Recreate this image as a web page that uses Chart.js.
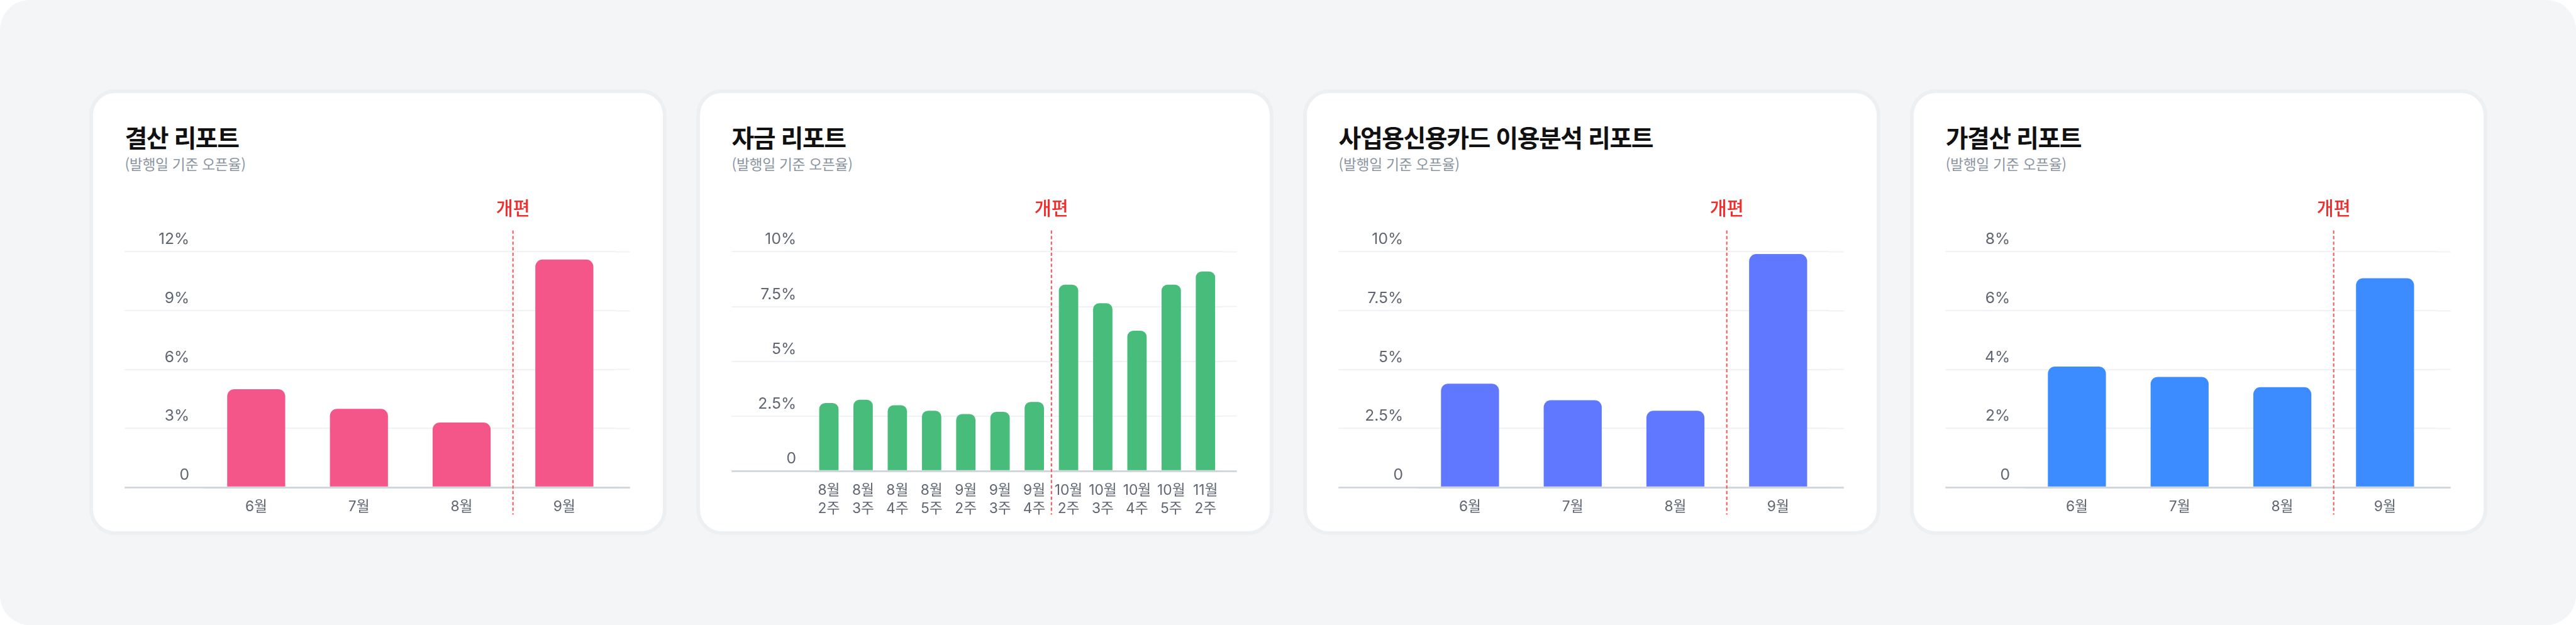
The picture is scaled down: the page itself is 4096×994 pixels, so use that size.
<!DOCTYPE html>
<html lang="ko">
<head>
<meta charset="utf-8">
<title>리포트 오픈율</title>
<script src="https://cdn.jsdelivr.net/npm/chart.js@4.4.1/dist/chart.umd.min.js"></script>
<style>
  html, body { margin: 0; padding: 0; background: #ffffff; }
  body { width: 4096px; height: 994px; overflow: hidden; position: relative; }
  #board { position: absolute; left: 0; top: 0; width: 4096px; height: 994px; background: #f4f5f7; }
  .card { position: absolute; box-sizing: border-box; background: #ffffff; border-style: solid; border-color: #edf0f3; }
  .card h2 { position: absolute; margin: 0; font-family: 'Noto Sans CJK KR', sans-serif; font-weight: 700; color: #111111; white-space: nowrap; line-height: 1; }
  .card p { position: absolute; margin: 0; font-family: 'Noto Sans CJK KR', sans-serif; font-weight: 400; color: #8b95a1; white-space: nowrap; line-height: 1; }
  .card canvas { position: absolute; left: 0; }
</style>
</head>
<body>
<div id="board"></div>
<script>
// everything is laid out in reference pixels, then scaled to the window
const S = 0.948;
const px = v => v * S;

// 결산 리포트
const settleLabels = ['6월', '7월', '8월', '9월'];
const settleRates = [5.0, 4.0, 3.3, 11.6];
const settleMax = 12, settleStep = 3, settleReformAt = 3;

// 자금 리포트 (weekly)
const fundLabels = [
    ['8월', '2주'], ['8월', '3주'], ['8월', '4주'], ['8월', '5주'],
    ['9월', '2주'], ['9월', '3주'], ['9월', '4주'],
    ['10월', '2주'], ['10월', '3주'], ['10월', '4주'], ['10월', '5주'],
    ['11월', '2주']
];
const fundRates = [3.1, 3.25, 3.0, 2.75, 2.6, 2.7, 3.15, 8.5, 7.65, 6.4, 8.5, 9.1];
const fundMax = 10, fundStep = 2.5, fundReformAt = 7;

// 사업용신용카드 이용분석 리포트
const bizCardLabels = ['6월', '7월', '8월', '9월'];
const bizCardRates = [4.4, 3.7, 3.25, 9.9];
const bizCardMax = 10, bizCardStep = 2.5, bizCardReformAt = 3;

// 가결산 리포트
const preSettleLabels = ['6월', '7월', '8월', '9월'];
const preSettleRates = [4.1, 3.75, 3.4, 7.1];
const preSettleMax = 8, preSettleStep = 2, preSettleReformAt = 3;

const subtitle = '(발행일 기준 오픈율)';
const reformLabel = '개편';

const GRID = '#f0f2f5';
const BASE = '#d1d6db';
const TICK_TEXT = '#5f6672';
const FONT = "'Inter', 'Noto Sans CJK KR', sans-serif";

document.getElementById('board').style.borderRadius = px(50) + 'px';

// dashed "개편" marker between the last old and first new category
const reformLine = {
    id: 'reformLine',
    afterDraw(chart, args, opts) {
        const xs = chart.scales.x;
        const x = (xs.getPixelForValue(opts.at - 1) + xs.getPixelForValue(opts.at)) / 2;
        const { ctx, chartArea } = chart;
        ctx.save();
        ctx.strokeStyle = '#f25b5b';
        ctx.lineWidth = px(2.2);
        ctx.setLineDash([px(5.5), px(3.8)]);
        ctx.beginPath();
        ctx.moveTo(x, chartArea.top - px(35.7));
        ctx.lineTo(x, chart.height - px(27));
        ctx.stroke();
        ctx.setLineDash([]);
        ctx.fillStyle = '#ef2f2f';
        ctx.font = `500 ${px(31)}px 'Noto Sans CJK KR', sans-serif`;
        ctx.textAlign = 'center';
        ctx.textBaseline = 'middle';
        ctx.fillText(reformLabel, x, chartArea.top - px(73.4));
        ctx.restore();
    }
};

function makeCard(i, title) {
    const card = document.createElement('div');
    card.className = 'card';
    card.style.left = px(150 + i * 1018) + 'px';
    card.style.top = px(150) + 'px';
    card.style.width = px(968) + 'px';
    card.style.height = px(748) + 'px';
    card.style.borderWidth = px(7) + 'px';
    card.style.borderRadius = px(43) + 'px';

    const h = document.createElement('h2');
    h.textContent = title;
    h.style.left = px(53) + 'px';
    h.style.top = px(53) + 'px';
    h.style.fontSize = px(41) + 'px';
    h.style.letterSpacing = px(-1.5) + 'px';
    card.appendChild(h);

    const p = document.createElement('p');
    p.textContent = subtitle;
    p.style.left = px(53) + 'px';
    p.style.top = px(107) + 'px';
    p.style.fontSize = px(24) + 'px';
    p.style.letterSpacing = px(-0.3) + 'px';
    card.appendChild(p);

    const canvas = document.createElement('canvas');
    canvas.style.top = px(150) + 'px';
    canvas.width = Math.round(px(954));
    canvas.height = Math.round(px(584));
    card.appendChild(canvas);

    document.getElementById('board').appendChild(card);
    return canvas;
}

function renderReportChart(canvas, labels, rates, color, yMax, yStep, reformAt, axisHeight, radius) {
    const lineColor = c => (c.tick && c.tick.value === 0 ? BASE : GRID);
    const lineWidth = c => (c.tick && c.tick.value === 0 ? px(3) : px(2));

    return new Chart(canvas.getContext('2d'), {
        type: 'bar',
        data: {
            labels: labels,
            datasets: [{
                data: rates,
                backgroundColor: color,
                borderRadius: px(radius),
                borderSkipped: 'start',
                barPercentage: 0.565,
                categoryPercentage: 1
            }]
        },
        options: {
            responsive: false,
            animation: false,
            events: [],
            layout: {
                padding: { top: px(116.4), left: px(53), right: px(53), bottom: 0 }
            },
            plugins: {
                legend: { display: false },
                tooltip: { enabled: false },
                reformLine: { at: reformAt }
            },
            scales: {
                x: {
                    type: 'category',
                    z: 1,
                    offset: true,
                    grid: { display: false, drawTicks: false },
                    border: { display: true, color: BASE, width: px(3) },
                    ticks: {
                        autoSkip: false,
                        maxRotation: 0,
                        padding: px(17.3),
                        color: TICK_TEXT,
                        font: { family: FONT, size: px(24), lineHeight: 1.28 }
                    },
                    afterFit: s => { s.height = px(axisHeight); }
                },
                y: {
                    position: 'left',
                    min: 0,
                    max: yMax,
                    border: { display: false },
                    grid: {
                        color: lineColor,
                        lineWidth: lineWidth,
                        drawTicks: true,
                        tickLength: px(134.5),
                        tickColor: lineColor,
                        tickWidth: lineWidth
                    },
                    ticks: {
                        stepSize: yStep,
                        padding: px(-108.5),
                        labelOffset: px(-20.4),
                        color: TICK_TEXT,
                        font: { family: FONT, size: px(26) },
                        callback: v => (v === 0 ? '0' : v + '%')
                    },
                    afterFit: s => { s.width = px(134.5); }
                },
                y2: {
                    position: 'right',
                    min: 0,
                    max: yMax,
                    border: { display: false },
                    grid: {
                        drawOnChartArea: false,
                        drawTicks: true,
                        tickLength: px(24),
                        tickColor: lineColor,
                        tickWidth: lineWidth
                    },
                    ticks: { stepSize: yStep, display: false },
                    afterFit: s => { s.width = px(24); }
                }
            }
        },
        plugins: [reformLine]
    });
}

renderReportChart(makeCard(0, '결산 리포트'), settleLabels, settleRates, '#f5568a',
    settleMax, settleStep, settleReformAt, 72.7, 12);
renderReportChart(makeCard(1, '자금 리포트'), fundLabels, fundRates, '#48bd7b',
    fundMax, fundStep, fundReformAt, 100, 10);
renderReportChart(makeCard(2, '사업용신용카드 이용분석 리포트'), bizCardLabels, bizCardRates, '#5f78ff',
    bizCardMax, bizCardStep, bizCardReformAt, 72.7, 12);
renderReportChart(makeCard(3, '가결산 리포트'), preSettleLabels, preSettleRates, '#3c8cff',
    preSettleMax, preSettleStep, preSettleReformAt, 72.7, 12);
</script>
</body>
</html>
